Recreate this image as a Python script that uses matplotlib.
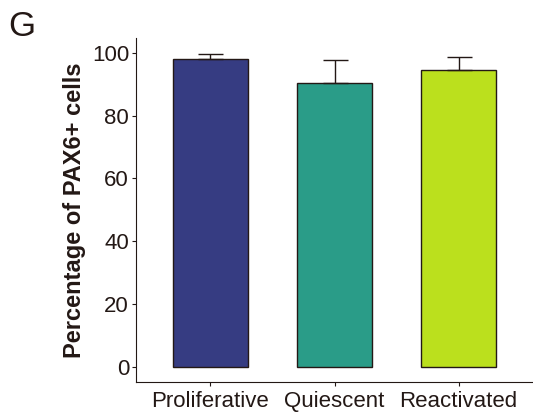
import matplotlib
matplotlib.use("Agg")
import matplotlib.pyplot as plt

plt.rcParams['font.family'] = ['Liberation Sans', 'DejaVu Sans']

INK = '#231815'

groups = ['Proliferative', 'Quiescent', 'Reactivated']
means = [98.2, 90.6, 94.7]
upper_err = [1.6, 7.3, 4.0]
colors = ['#363c82', '#2a9c88', '#bbe01d']

fig = plt.figure(figsize=(5.33, 4.12), dpi=100)
ax = fig.add_axes([0.2552, 0.072, 0.7448, 0.835])

x = list(range(len(groups)))
ax.bar(x, means, width=0.6, color=colors, edgecolor=INK, linewidth=1.0, zorder=2)
ax.errorbar(x, means, yerr=[[0] * len(means), upper_err], fmt='none',
            ecolor=INK, elinewidth=1.0, capsize=9, capthick=1.0, zorder=3)

ax.set_xlim(-0.6, 2.6)
ax.set_ylim(-5, 104.7)
ax.set_yticks([0, 20, 40, 60, 80, 100])
ax.set_xticks(x)
ax.set_xticklabels(groups)

for side in ['top', 'right']:
    ax.spines[side].set_visible(False)
for side in ['left', 'bottom']:
    ax.spines[side].set_color(INK)
    ax.spines[side].set_linewidth(0.8)

ax.tick_params(axis='both', colors=INK, labelcolor=INK, labelsize=16,
               length=3, width=0.8)
ax.tick_params(axis='y', pad=2)
ax.tick_params(axis='x', pad=3)

ax.set_ylabel('Percentage of PAX6+ cells', fontsize=17, fontweight='bold',
              color=INK, labelpad=4)

fig.text(0.015, 0.975, 'G', fontsize=25, color=INK, va='top', ha='left')

fig.savefig('out.png', dpi=100)
